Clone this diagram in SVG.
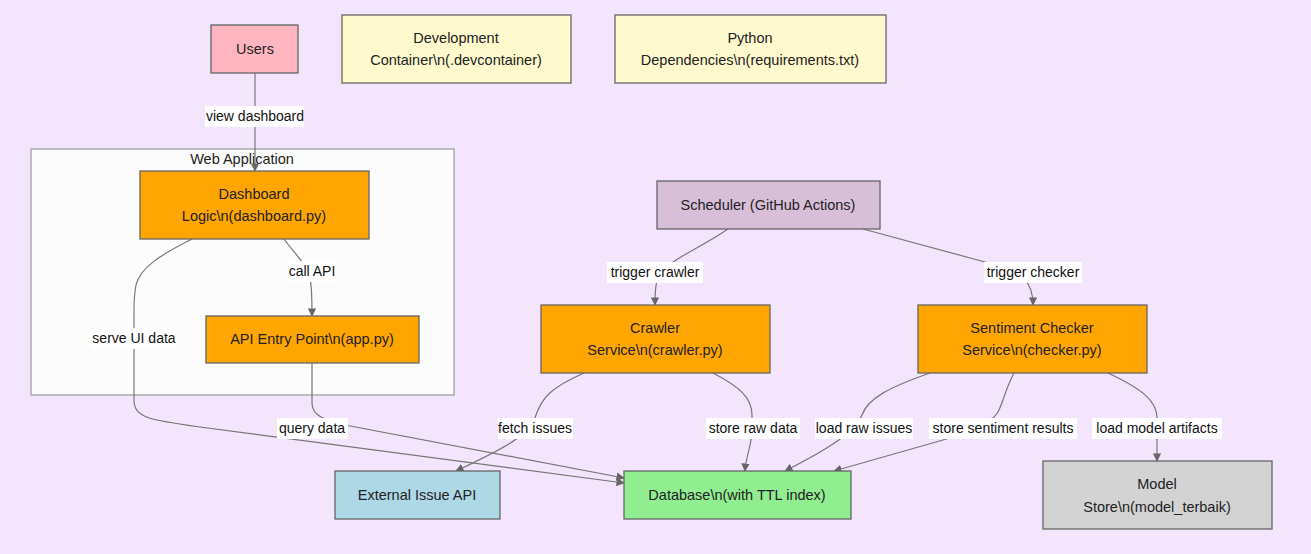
<svg xmlns="http://www.w3.org/2000/svg" width="1311" height="554" viewBox="0 0 1311 554">
<defs>
<style>
.n{stroke:#666;stroke-width:1.3}
.t{font-family:"Liberation Sans",Arial,sans-serif;font-size:14.5px;fill:#222;text-anchor:middle}
.l{font-family:"Liberation Sans",Arial,sans-serif;font-size:14px;fill:#111;text-anchor:middle}
.lb{fill:#fff}
.e{fill:none;stroke:#777;stroke-width:1.2;marker-end:url(#arr)}
</style>
<marker id="arr" viewBox="0 0 10 10" refX="9" refY="5" markerWidth="7" markerHeight="7" orient="auto">
<path d="M0,0 L10,5 L0,10 z" fill="#666"/>
</marker>
</defs>
<rect x="0" y="0" width="1311" height="554" fill="#f3e5fc"/>

<g id="cluster-webapp">
<rect x="31" y="149" width="423" height="246" fill="#fcfcfc" stroke="#aaa" stroke-width="1.5"/>
<text class="t" x="242" y="164" fill="#333">Web Application</text>
</g>

<g id="connectors">
<path class="e" d="M255,73 L255,171"/>
<path class="e" d="M284,239 C292,250 300,258 305,266 C311,276 312,285 312,316"/>
<path class="e" d="M192,239 C160,255 140,268 136,285 C134,295 134,300 134,310 L134,400 C134,418 150,420 200,427 L624,483"/>
<path class="e" d="M312,363 L312,403 C312,416 325,420 345,425 L624,478"/>
<path class="e" d="M728,229 C705,245 680,255 665,268 C656,277 655,285 655,305"/>
<path class="e" d="M863,229 L985,262 C1025,273 1033,282 1033,305"/>
<path class="e" d="M584,373 C550,388 542,398 536,415 C530,435 505,448 456,471"/>
<path class="e" d="M713,373 C740,387 752,398 752,415 L752,430 C752,445 746,455 745,471"/>
<path class="e" d="M930,373 C890,387 868,398 862,415 C855,432 830,448 785,471"/>
<path class="e" d="M1014,373 C1005,390 1004,400 998,412 C990,425 970,432 950,438 L834,471"/>
<path class="e" d="M1108,373 C1140,388 1157,400 1157,418 L1157,461"/>

<rect class="lb" x="205" y="106" width="99" height="21"/>
<text class="l" x="255" y="121">view dashboard</text>
<rect class="lb" x="288" y="261" width="48" height="21"/>
<text class="l" x="312" y="276">call API</text>
<rect class="lb" x="91" y="328" width="86" height="21"/>
<text class="l" x="134" y="343">serve UI data</text>
<rect class="lb" x="277" y="418" width="71" height="21"/>
<text class="l" x="312" y="433">query data</text>
<rect class="lb" x="607" y="262" width="96" height="21"/>
<text class="l" x="655" y="277">trigger crawler</text>
<rect class="lb" x="984" y="262" width="98" height="21"/>
<text class="l" x="1033" y="277">trigger checker</text>
<rect class="lb" x="498" y="418" width="75" height="21"/>
<text class="l" x="535" y="433">fetch issues</text>
<rect class="lb" x="706" y="418" width="94" height="21"/>
<text class="l" x="753" y="433">store raw data</text>
<rect class="lb" x="815" y="418" width="98" height="21"/>
<text class="l" x="864" y="433">load raw issues</text>
<rect class="lb" x="929" y="418" width="148" height="21"/>
<text class="l" x="1003" y="433">store sentiment results</text>
<rect class="lb" x="1092" y="418" width="130" height="21"/>
<text class="l" x="1157" y="433">load model artifacts</text>
</g>

<g id="users">
<rect class="n" x="211" y="25" width="87" height="48" fill="#ffb6c1"/>
<text class="t" x="255" y="54">Users</text>
</g>
<g id="devcontainer">
<rect class="n" x="342" y="15" width="229" height="68" fill="#fffacd"/>
<text class="t" x="456" y="43">Development</text>
<text class="t" x="456" y="65">Container\n(.devcontainer)</text>
</g>
<g id="requirements">
<rect class="n" x="615" y="15" width="271" height="68" fill="#fffacd"/>
<text class="t" x="750" y="43">Python</text>
<text class="t" x="750" y="65">Dependencies\n(requirements.txt)</text>
</g>
<g id="dashboard">
<rect class="n" x="140" y="171" width="229" height="68" fill="#ffa500"/>
<text class="t" x="254" y="199">Dashboard</text>
<text class="t" x="254" y="221">Logic\n(dashboard.py)</text>
</g>
<g id="api">
<rect class="n" x="206" y="316" width="213" height="47" fill="#ffa500"/>
<text class="t" x="312" y="344">API Entry Point\n(app.py)</text>
</g>
<g id="scheduler">
<rect class="n" x="657" y="181" width="223" height="48" fill="#d8bfd8"/>
<text class="t" x="768" y="210">Scheduler (GitHub Actions)</text>
</g>
<g id="crawler">
<rect class="n" x="541" y="305" width="229" height="68" fill="#ffa500"/>
<text class="t" x="655" y="333">Crawler</text>
<text class="t" x="655" y="355">Service\n(crawler.py)</text>
</g>
<g id="checker">
<rect class="n" x="918" y="305" width="229" height="68" fill="#ffa500"/>
<text class="t" x="1032" y="333">Sentiment Checker</text>
<text class="t" x="1032" y="355">Service\n(checker.py)</text>
</g>
<g id="external-api">
<rect class="n" x="335" y="471" width="165" height="48" fill="#add8e6"/>
<text class="t" x="417" y="500">External Issue API</text>
</g>
<g id="database">
<rect class="n" x="624" y="471" width="227" height="48" fill="#90ee90"/>
<text class="t" x="737" y="500">Database\n(with TTL index)</text>
</g>
<g id="model-store">
<rect class="n" x="1043" y="461" width="229" height="68" fill="#d3d3d3"/>
<text class="t" x="1157" y="489">Model</text>
<text class="t" x="1157" y="512">Store\n(model_terbaik)</text>
</g>
</svg>
